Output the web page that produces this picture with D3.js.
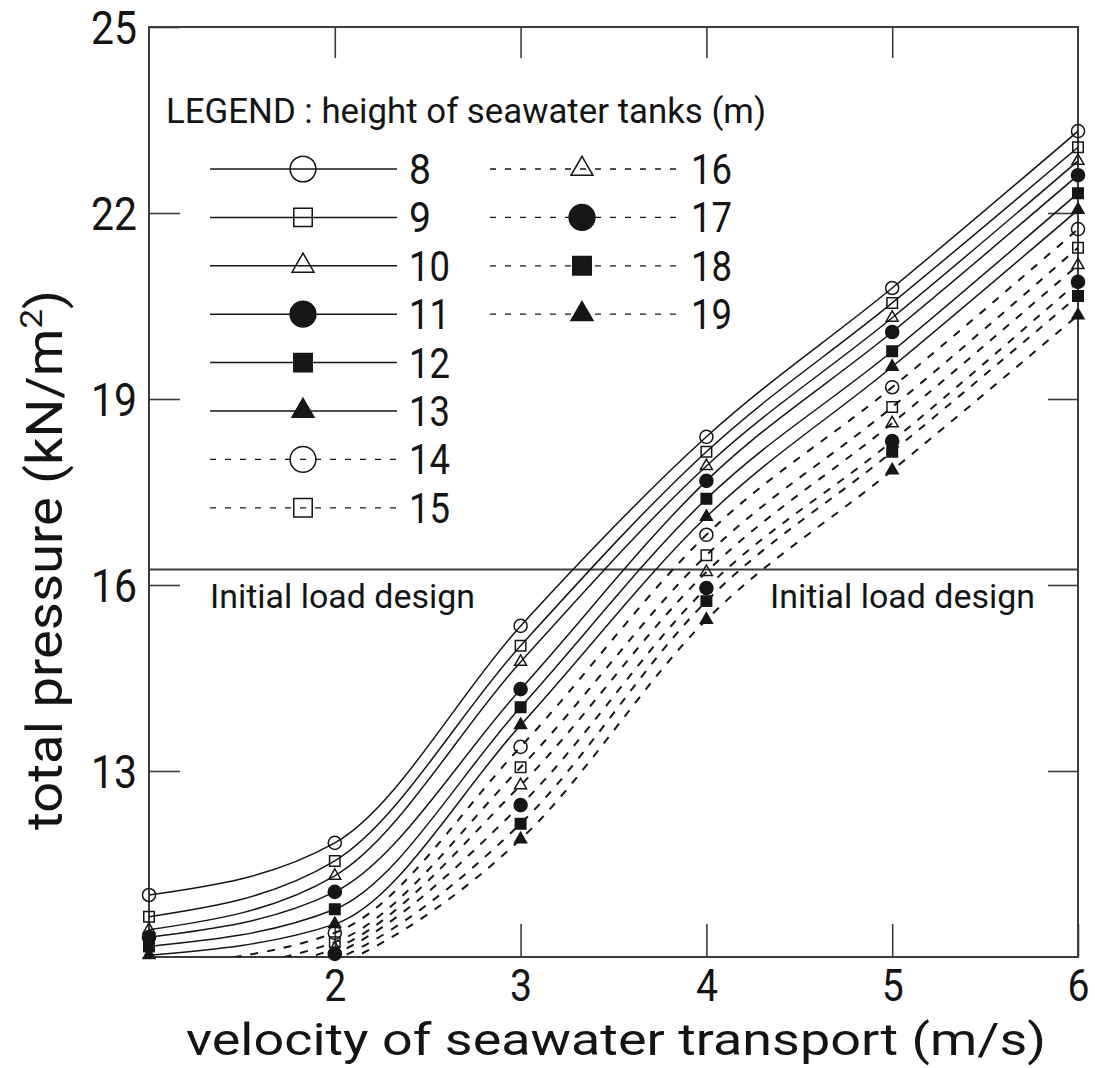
<!DOCTYPE html>
<html>
<head>
<meta charset="utf-8">
<script src="https://cdn.jsdelivr.net/npm/d3@7"></script>
<style>
  body { margin: 0; background: #fff; }
  svg { display: block; }
  text { font-family: Roboto, "DejaVu Sans Condensed", sans-serif; font-weight: 400; fill: #141414; }
</style>
</head>
<body>
<svg id="chart" width="1095" height="1068"></svg>
<script>
// velocity of seawater transport (m/s)
const velocity = [1, 2, 3, 4, 5, 6];

// total pressure (kN/m2) for each seawater tank height (m)
const tank8  = [11.00, 11.84, 15.34, 18.39, 20.79, 23.32];
const tank9  = [10.65, 11.55, 15.02, 18.15, 20.55, 23.06];
const tank10 = [10.44, 11.31, 14.76, 17.92, 20.31, 22.84];
const tank11 = [10.32, 11.05, 14.32, 17.68, 20.08, 22.61];
const tank12 = [10.17, 10.77, 14.03, 17.39, 19.77, 22.32];
const tank13 = [10.03, 10.53, 13.74, 17.10, 19.52, 22.05];
const tank14 = [9.85, 10.39, 13.39, 16.81, 19.19, 21.74];
const tank15 = [9.70, 10.24, 13.06, 16.48, 18.87, 21.44];
const tank16 = [9.55, 10.14, 12.77, 16.21, 18.61, 21.16];
const tank17 = [9.40, 10.05, 12.45, 15.95, 18.32, 20.89];
const tank18 = [9.30, 9.95, 12.15, 15.74, 18.15, 20.66];
const tank19 = [9.20, 9.85, 11.90, 15.44, 17.85, 20.35];

const tankHeights = [8, 9, 10, 11, 12, 13, 14, 15, 16, 17, 18, 19];
const tankValues = [tank8, tank9, tank10, tank11, tank12, tank13,
                    tank14, tank15, tank16, tank17, tank18, tank19];

// initial load design level (kN/m2)
const initialLoad = 16.25;

// axis ticks
const xTickValues = [2, 3, 4, 5, 6];
const yTickValues = [13, 16, 19, 22, 25];

const xTitle = "velocity of seawater transport (m/s)";
const legendTitle = "LEGEND : height of seawater tanks (m)";
const loadLabel = "Initial load design";

// ---------------------------------------------------------------
const svg = d3.select("#chart");
const ink = "#161616";
const frameInk = "#3c3c3c";

const x = d3.scaleLinear().domain([1, 6]).range([149, 1078]);
const y = d3.scaleLinear().domain([10, 25]).range([957, 27]);

// marker shapes cycle: circle, square, triangle; open then filled
const filledOf = i => (Math.floor(i / 3) % 2) === 1;
const dashedOf = i => i >= 6;

const plotArea = { 0: [d3.symbolCircle, 135], 1: [d3.symbolSquare, 110], 2: [d3.symbolTriangle, 62] };
const legendArea = { 0: [d3.symbolCircle, 520], 1: [d3.symbolSquare, 340], 2: [d3.symbolTriangle, 209] };

const series = tankHeights.map((h, i) => ({
  height: h,
  points: velocity.map((v, k) => ({ v, p: tankValues[i][k] })),
  shape: i % 3,
  filled: filledOf(i),
  dashed: dashedOf(i)
}));

// text helper: fixed font size, stretched to a given width
function label(g, str, px, py, size, width, anchor) {
  return g.append("text")
    .attr("x", px).attr("y", py)
    .attr("font-size", size)
    .attr("text-anchor", anchor || "start")
    .attr("textLength", width)
    .attr("lengthAdjust", "spacingAndGlyphs")
    .text(str);
}

// ---- frame -----------------------------------------------------
svg.append("rect")
  .attr("x", x(1)).attr("y", y(25))
  .attr("width", x(6) - x(1)).attr("height", y(10) - y(25))
  .attr("fill", "none").attr("stroke", frameInk).attr("stroke-width", 2);

// ---- axes (inward ticks) ---------------------------------------
function styleAxis(g) {
  g.select(".domain").remove();
  g.selectAll(".tick line").attr("stroke", frameInk).attr("stroke-width", 1.6);
}

const gLeft = svg.append("g")
  .attr("transform", `translate(${x(1)},0)`)
  .call(d3.axisLeft(y).tickValues(yTickValues).tickSizeInner(-31).tickSizeOuter(0)
        .tickPadding(12).tickFormat(d3.format("d")));
styleAxis(gLeft);
gLeft.selectAll(".tick text")
  .attr("font-size", 46).attr("font-family", null).attr("fill", null)
  .attr("dy", "0.36em")
  .attr("textLength", d => String(d).length * 23)
  .attr("lengthAdjust", "spacingAndGlyphs");

const gBottom = svg.append("g")
  .attr("transform", `translate(0,${y(10)})`)
  .call(d3.axisBottom(x).tickValues(xTickValues).tickSizeInner(-33).tickSizeOuter(0)
        .tickPadding(13).tickFormat(d3.format("d")));
styleAxis(gBottom);
gBottom.selectAll(".tick text")
  .attr("font-size", 44).attr("font-family", null).attr("fill", null)
  .attr("textLength", 22).attr("lengthAdjust", "spacingAndGlyphs");

const gTop = svg.append("g")
  .attr("transform", `translate(0,${y(25)})`)
  .call(d3.axisTop(x).tickValues(xTickValues.slice(0, -1)).tickSizeInner(-31)
        .tickSizeOuter(0).tickFormat(""));
styleAxis(gTop);

const gRight = svg.append("g")
  .attr("transform", `translate(${x(6)},0)`)
  .call(d3.axisRight(y).tickValues(yTickValues.slice(0, -1)).tickSizeInner(-30)
        .tickSizeOuter(0).tickFormat(""));
styleAxis(gRight);

// ---- axis titles -----------------------------------------------
label(svg, xTitle, 186, 1055, 45, 860);

const yTitle = svg.append("text")
  .attr("transform", "translate(62,560) rotate(-90)")
  .attr("text-anchor", "middle")
  .attr("font-size", 50)
  .attr("textLength", 540)
  .attr("lengthAdjust", "spacingAndGlyphs");
yTitle.append("tspan").text("total pressure (kN/m");
yTitle.append("tspan").attr("font-size", 32).attr("dy", -20).text("2");
yTitle.append("tspan").attr("dy", 20).text(")");

// ---- initial load design line ----------------------------------
svg.append("line")
  .attr("x1", x(1)).attr("x2", x(6))
  .attr("y1", y(initialLoad)).attr("y2", y(initialLoad))
  .attr("stroke", frameInk).attr("stroke-width", 2);
label(svg, loadLabel, 210, 608, 33, 265);
label(svg, loadLabel, 770, 608, 33, 265);

// ---- curves ----------------------------------------------------
svg.append("clipPath").attr("id", "plot-clip")
  .append("rect")
  .attr("x", x(1)).attr("y", y(25))
  .attr("width", x(6) - x(1)).attr("height", y(10) - y(25));

const line = d3.line()
  .x(d => x(d.v)).y(d => y(d.p))
  .curve(d3.curveMonotoneX);

const curves = svg.append("g").attr("clip-path", "url(#plot-clip)");
curves.selectAll("path")
  .data(series)
  .join("path")
  .attr("d", d => line(d.points))
  .attr("fill", "none")
  .attr("stroke", ink)
  .attr("stroke-width", d => d.dashed ? 2 : 1.5)
  .attr("stroke-dasharray", d => d.dashed ? "8,9" : null);

// ---- markers ---------------------------------------------------
function drawMarker(g, s, px, py, table) {
  const [type, area] = table[s.shape];
  g.append("path")
    .attr("transform", `translate(${px},${py})`)
    .attr("d", d3.symbol().type(type).size(area)())
    .attr("fill", s.filled ? ink : "none")
    .attr("stroke", ink)
    .attr("stroke-width", 1.5);
}

const markers = svg.append("g");
series.forEach(s => {
  s.points
    .filter(d => d.p >= y.domain()[0])
    .forEach(d => drawMarker(markers, s, x(d.v), y(d.p), plotArea));
});

// ---- legend ----------------------------------------------------
label(svg, legendTitle, 166, 123, 35, 600);

const legend = svg.append("g");
const rowStep = 48.4;
series.forEach((s, i) => {
  const col = i < 8 ? 0 : 1;
  const row = col === 0 ? i : i - 8;
  const ly = 169 + row * rowStep;
  const x0 = col === 0 ? 210 : 490;
  const x1 = col === 0 ? 397 : 680;
  const mx = col === 0 ? 303 : 582;
  legend.append("line")
    .attr("x1", x0).attr("x2", x1).attr("y1", ly).attr("y2", ly)
    .attr("stroke", ink).attr("stroke-width", s.dashed ? 1.3 : 1.5)
    .attr("stroke-dasharray", s.dashed ? "6,9" : null);
  drawMarker(legend, s, mx, ly, legendArea);
  const txt = String(s.height);
  label(legend, txt, col === 0 ? 409 : 691, ly + 15, 42, txt.length === 1 ? 22 : 41);
});
</script>
</body>
</html>
